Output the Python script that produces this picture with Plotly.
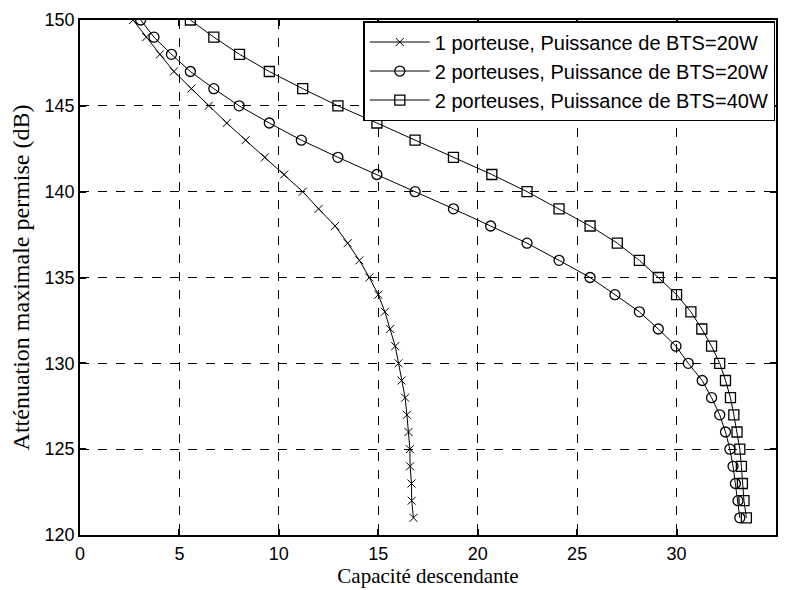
import plotly.graph_objects as go

attenuation = list(range(150, 120, -1))  # 150 .. 121

cap_1p_20w = [2.67, 3.33, 4.02, 4.72, 5.6, 6.47, 7.38, 8.33, 9.3, 10.27,
              11.2, 12.0, 12.83, 13.46, 14.05, 14.55, 15.0, 15.33, 15.6, 15.85,
              16.02, 16.17, 16.35, 16.44, 16.52, 16.59, 16.6, 16.67, 16.68, 16.77]

cap_2p_20w = [3.05, 3.72, 4.6, 5.55, 6.73, 8.0, 9.52, 11.13, 12.97, 14.93,
              16.85, 18.78, 20.65, 22.48, 24.09, 25.65, 26.9, 28.13, 29.08, 29.97,
              30.59, 31.29, 31.76, 32.17, 32.46, 32.68, 32.84, 32.96, 33.09, 33.18]

cap_2p_40w = [5.55, 6.73, 8.02, 9.52, 11.2, 12.97, 14.93, 16.85, 18.78, 20.71,
              22.48, 24.09, 25.65, 27.02, 28.13, 29.08, 30.0, 30.72, 31.27, 31.76,
              32.17, 32.46, 32.71, 32.88, 33.04, 33.18, 33.26, 33.31, 33.39, 33.51]

series_names = ["1 porteuse, Puissance de BTS=20W",
                "2 porteuses, Puissance de BTS=20W",
                "2 porteuses, Puissance de BTS=40W"]

x_ticks = [0, 5, 10, 15, 20, 25, 30, 35]
y_ticks = [120, 125, 130, 135, 140, 145, 150]

fig = go.Figure()
fig.add_trace(go.Scatter(x=cap_1p_20w, y=attenuation, name=series_names[0],
                         mode="lines+markers",
                         line=dict(color="black", width=1),
                         marker=dict(symbol="x-thin-open", size=8,
                                     line=dict(color="black", width=1), color="black")))
fig.add_trace(go.Scatter(x=cap_2p_20w, y=attenuation, name=series_names[1],
                         mode="lines+markers",
                         line=dict(color="black", width=1),
                         marker=dict(symbol="circle-open", size=10,
                                     line=dict(color="black", width=1.3), color="black")))
fig.add_trace(go.Scatter(x=cap_2p_40w, y=attenuation, name=series_names[2],
                         mode="lines+markers",
                         line=dict(color="black", width=1),
                         marker=dict(symbol="square-open", size=10,
                                     line=dict(color="black", width=1.3), color="black")))

axis_common = dict(
    showline=True, linecolor="black", linewidth=1.5, mirror="ticks",
    ticks="inside", ticklen=6, tickcolor="black", tickwidth=1.5,
    showgrid=True, gridcolor="black", gridwidth=1.3, griddash="dash",
    zeroline=False, automargin=False,
    tickfont=dict(family="Liberation Sans, Arial", size=18, color="black"),
)

fig.update_xaxes(range=[0, 35], tickvals=x_ticks, ticklabelstandoff=2,
                 title=dict(text="Capacité descendante",
                            font=dict(family="Liberation Serif, Times New Roman", size=21, color="black"),
                            standoff=4),
                 **axis_common)
fig.update_yaxes(range=[120, 150], tickvals=y_ticks,
                 title=dict(text="Atténuation maximale permise (dB)",
                            font=dict(family="Liberation Serif, Times New Roman", size=24, color="black"),
                            standoff=8),
                 **axis_common)

fig.update_layout(
    width=778, height=582,
    margin=dict(l=72, r=10, t=12, b=55),
    paper_bgcolor="white", plot_bgcolor="white",
    showlegend=True,
    legend=dict(x=0.999, y=0.998, xanchor="right", yanchor="top",
                bgcolor="white", bordercolor="black", borderwidth=1.5,
                font=dict(family="Liberation Sans, Arial", size=20, color="black"),
                tracegroupgap=0, itemwidth=60),
)

fig.write_html("out.html")
